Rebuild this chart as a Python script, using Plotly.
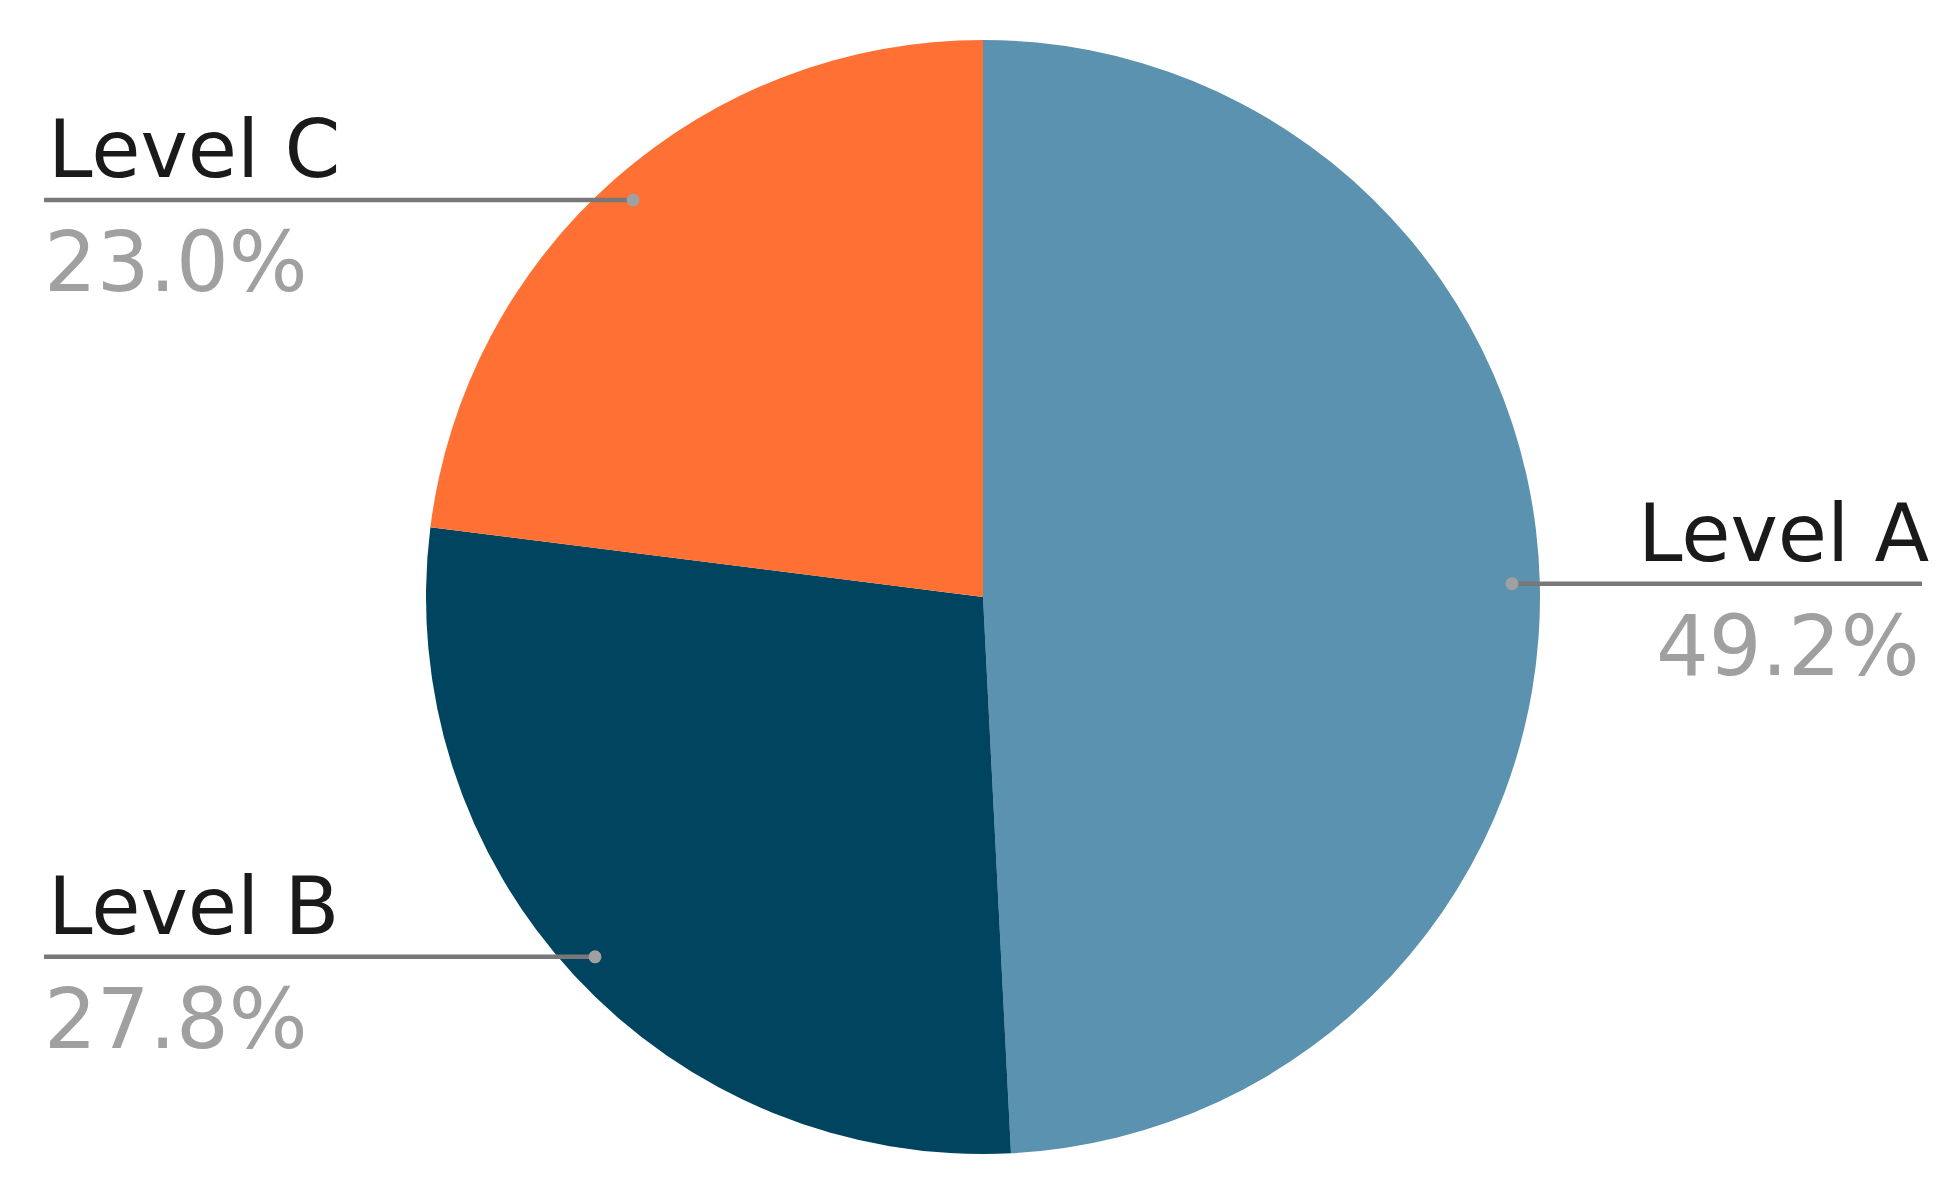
import math
import plotly.graph_objects as go

# data
levels = ['Level A', 'Level B', 'Level C']
shares = [49.2, 27.8, 23.0]
colors = ['#5a92b0', '#01445f', '#fe7033']

W, H = 1953, 1179
cx, cy, R = 983, 597, 557
left_x, right_x = 44, 1922
font_family = 'DejaVu Sans'

fig = go.Figure()
fig.add_trace(go.Pie(labels=levels, values=shares, sort=False,
                     direction='clockwise', rotation=0,
                     marker=dict(colors=colors, line=dict(width=0)),
                     textinfo='none', hoverinfo='label+percent',
                     showlegend=False,
                     domain=dict(x=[(cx - R) / W, (cx + R) / W],
                                 y=[1 - (cy + R) / H, 1 - (cy - R) / H])))

shapes = []
annotations = []
total = sum(shares)
start = 0.0
for name, v in zip(levels, shares):
    # label line starts at the middle of the slice, near the rim
    mid = (start + v / 2) / total * 2 * math.pi
    start += v
    dx = cx + 0.95 * R * math.sin(mid)
    dy = cy - 0.95 * R * math.cos(mid)
    right = math.sin(mid) > 0
    end = right_x if right else left_x
    shapes.append(dict(type='line', xref='x', yref='y', x0=dx, x1=end, y0=dy, y1=dy,
                       line=dict(color='#787878', width=4.5), layer='above'))
    shapes.append(dict(type='circle', xref='x', yref='y', x0=dx - 6.5, x1=dx + 6.5,
                       y0=dy - 6.5, y1=dy + 6.5, fillcolor='#a0a0a0',
                       line=dict(width=0), layer='above'))
    anchor = 'right' if right else 'left'
    annotations.append(dict(x=end, y=dy, xref='x', yref='y', text=name,
                            showarrow=False, xanchor=anchor, yanchor='bottom',
                            xshift=10 if right else 2, yshift=2,
                            font=dict(family=font_family, size=80, color='#1a1a1a')))
    annotations.append(dict(x=end, y=dy, xref='x', yref='y', text=f'{v:.1f}%',
                            showarrow=False, xanchor=anchor, yanchor='top',
                            xshift=0 if right else -2, yshift=-12,
                            font=dict(family=font_family, size=83, color='#a0a0a0')))

fig.update_layout(width=W, height=H, margin=dict(l=0, r=0, t=0, b=0),
                  paper_bgcolor='white', plot_bgcolor='white',
                  xaxis=dict(range=[0, W], visible=False, domain=[0, 1]),
                  yaxis=dict(range=[H, 0], visible=False, domain=[0, 1]),
                  shapes=shapes, annotations=annotations)
fig.write_html('out.html', config={'displayModeBar': False},
               post_script="document.body.style.margin='0';")
